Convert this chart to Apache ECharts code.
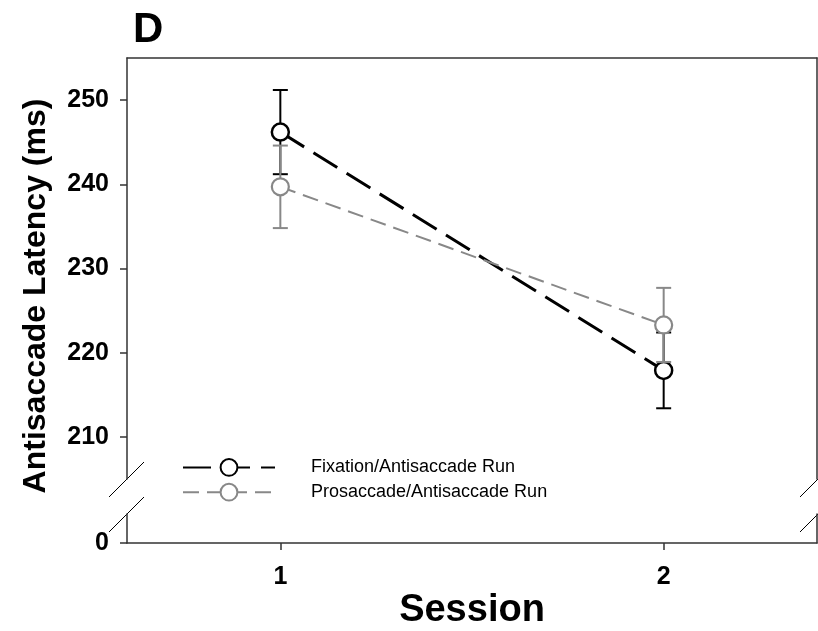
<!DOCTYPE html>
<html>
<head>
<meta charset="utf-8">
<script src="https://cdn.jsdelivr.net/npm/echarts@6/dist/echarts.min.js"></script>
<style>
html,body{margin:0;padding:0;background:#fff;}
#chart{width:818px;height:631px;}
</style>
</head>
<body>
<div id="chart"></div>
<script>
// ---- data ----
const sessions = [1, 2];
const fixMean = [246.2, 217.9];
const fixErr = [5.0, 4.5];
const proMean = [239.7, 223.3];
const proErr = [4.9, 4.4];
const yTicksUpper = [210, 220, 230, 240, 250];
const yTicksLower = [0];
const xTicks = [1, 2];
const seriesNames = ['Fixation/Antisaccade Run', 'Prosaccade/Antisaccade Run'];

const FONT = "'Liberation Sans', Arial, Helvetica, sans-serif";
const AXIS_COLOR = '#333333';
const BLACK = '#000000';
const GREY = '#888888';

const chart = echarts.init(document.getElementById('chart'), null, {renderer: 'canvas'});

function errData(means, errs) {
  return sessions.map((s, i) => [s, means[i] - errs[i], means[i] + errs[i]]);
}
function errRender(color, lw) {
  return function (params, api) {
    const x = api.value(0), lo = api.value(1), hi = api.value(2);
    const pLo = api.coord([x, lo]);
    const pHi = api.coord([x, hi]);
    const hw = 7.5;
    const st = {stroke: color, lineWidth: lw};
    return {
      type: 'group',
      children: [
        {type: 'line', shape: {x1: pLo[0], y1: pLo[1], x2: pHi[0], y2: pHi[1]}, style: st},
        {type: 'line', shape: {x1: pLo[0] - hw, y1: pLo[1], x2: pLo[0] + hw, y2: pLo[1]}, style: st},
        {type: 'line', shape: {x1: pHi[0] - hw, y1: pHi[1], x2: pHi[0] + hw, y2: pHi[1]}, style: st}
      ]
    };
  };
}

const lineOnly = {show: true, onZero: false, lineStyle: {color: AXIS_COLOR, width: 1.5}};

const option = {
  animation: false,
  backgroundColor: '#ffffff',
  title: {
    text: 'D', left: 133, top: 9, padding: 0,
    textStyle: {fontSize: 42, fontWeight: 'bold', fontFamily: FONT, color: BLACK}
  },
  legend: {
    orient: 'vertical',
    left: 177, top: 453,
    itemWidth: 92, itemHeight: 21, itemGap: 6,
    data: seriesNames,
    selectedMode: false,
    textStyle: {fontSize: 18, fontFamily: FONT, color: BLACK, padding: [0, 0, 0, 31]}
  },
  grid: [
    {left: 127, top: 58, width: 690, height: 421},
    {left: 127, top: 514, width: 690, height: 29}
  ],
  xAxis: [
    {gridIndex: 0, type: 'value', min: 0.6, max: 2.4, position: 'top',
     axisLine: lineOnly, axisTick: {show: false}, axisLabel: {show: false}, splitLine: {show: false}},
    {gridIndex: 1, type: 'value', min: 0.6, max: 2.4, position: 'bottom',
     axisLine: lineOnly,
     axisTick: {show: true, customValues: xTicks, length: 7, lineStyle: {color: AXIS_COLOR, width: 1.5}},
     axisLabel: {customValues: xTicks, fontSize: 25, fontWeight: 'bold', fontFamily: FONT, color: BLACK, margin: 22},
     splitLine: {show: false},
     name: 'Session', nameLocation: 'middle', nameGap: 68,
     nameTextStyle: {fontSize: 38, fontWeight: 'bold', fontFamily: FONT, color: BLACK, verticalAlign: 'middle'}}
  ],
  yAxis: [
    {gridIndex: 0, type: 'value', min: 205, max: 255, position: 'left',
     axisLine: lineOnly,
     axisTick: {show: true, customValues: yTicksUpper, length: 7, lineStyle: {color: AXIS_COLOR, width: 1.5}},
     axisLabel: {customValues: yTicksUpper, fontSize: 25, fontWeight: 'bold', fontFamily: FONT, color: BLACK, margin: 18},
     splitLine: {show: false}},
    {gridIndex: 0, type: 'value', min: 205, max: 255, position: 'right',
     axisLine: lineOnly, axisTick: {show: false}, axisLabel: {show: false}, splitLine: {show: false}},
    {gridIndex: 1, type: 'value', min: 0, max: 5, position: 'left',
     axisLine: lineOnly,
     axisTick: {show: true, customValues: yTicksLower, length: 7, lineStyle: {color: AXIS_COLOR, width: 1.5}},
     axisLabel: {customValues: yTicksLower, fontSize: 25, fontWeight: 'bold', fontFamily: FONT, color: BLACK, margin: 18},
     splitLine: {show: false}},
    {gridIndex: 1, type: 'value', min: 0, max: 5, position: 'right',
     axisLine: lineOnly, axisTick: {show: false}, axisLabel: {show: false}, splitLine: {show: false}}
  ],
  series: [
    {type: 'custom', name: 'fixErr', xAxisIndex: 0, yAxisIndex: 0, z: 2, silent: true,
     renderItem: errRender(BLACK, 2), data: errData(fixMean, fixErr), encode: {x: 0, y: [1, 2]}},
    {type: 'line', name: seriesNames[0], xAxisIndex: 0, yAxisIndex: 0, z: 3, silent: true,
     data: sessions.map((s, i) => [s, fixMean[i]]),
     symbol: 'circle', symbolSize: 17,
     itemStyle: {color: '#ffffff', borderColor: BLACK, borderWidth: 2.5},
     lineStyle: {color: BLACK, width: 3, type: [28, 11]}},
    {type: 'custom', name: 'proErr', xAxisIndex: 0, yAxisIndex: 0, z: 4, silent: true,
     renderItem: errRender(GREY, 2), data: errData(proMean, proErr), encode: {x: 0, y: [1, 2]}},
    {type: 'line', name: seriesNames[1], xAxisIndex: 0, yAxisIndex: 0, z: 5, silent: true,
     data: sessions.map((s, i) => [s, proMean[i]]),
     symbol: 'circle', symbolSize: 17,
     itemStyle: {color: '#ffffff', borderColor: GREY, borderWidth: 2.2},
     lineStyle: {color: GREY, width: 2, type: [16, 8]}}
  ],
  graphic: [
    {type: 'text', x: 36, y: 296, rotation: Math.PI / 2,
     style: {text: 'Antisaccade Latency (ms)', x: 0, y: 0, fill: BLACK,
             font: "bold 32px 'Liberation Sans', Arial, sans-serif", align: 'center', verticalAlign: 'middle'}},
    {type: 'line', shape: {x1: 109, y1: 497, x2: 144, y2: 462}, style: {stroke: BLACK, lineWidth: 1}},
    {type: 'line', shape: {x1: 109, y1: 532, x2: 144, y2: 497}, style: {stroke: BLACK, lineWidth: 1}},
    {type: 'line', shape: {x1: 800, y1: 497, x2: 835, y2: 462}, style: {stroke: BLACK, lineWidth: 1}},
    {type: 'line', shape: {x1: 800, y1: 532, x2: 835, y2: 497}, style: {stroke: BLACK, lineWidth: 1}}
  ]
};
chart.setOption(option);
</script>
</body>
</html>
